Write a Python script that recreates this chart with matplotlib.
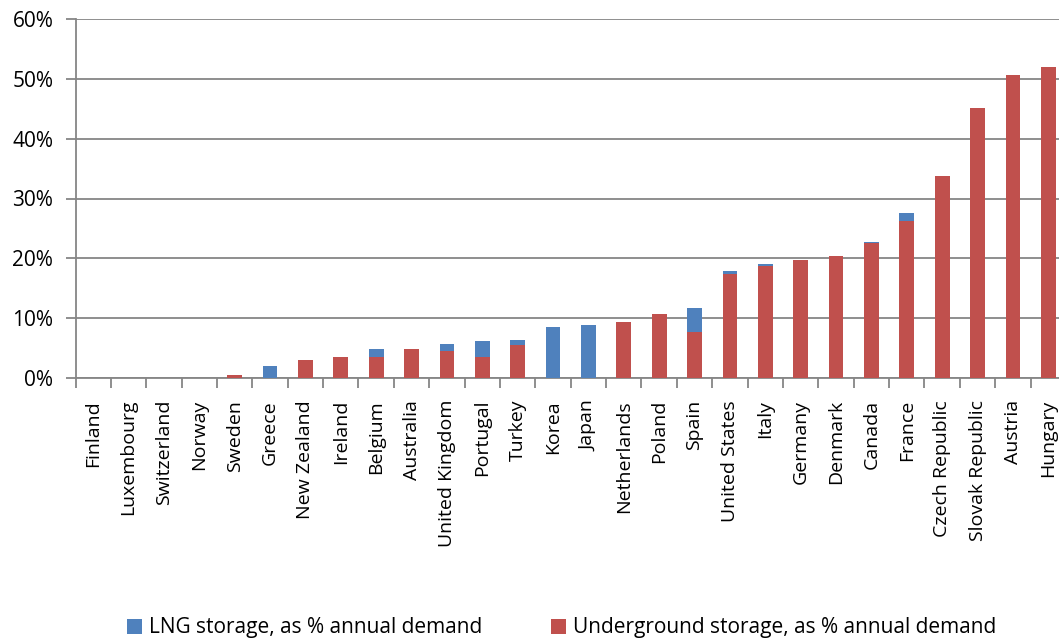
import matplotlib
matplotlib.use("Agg")
import matplotlib.pyplot as plt
from matplotlib.ticker import FixedLocator, FuncFormatter
import numpy as np

# countries, sorted by total storage
countries = ["Finland", "Luxembourg", "Switzerland", "Norway", "Sweden", "Greece",
             "New Zealand", "Ireland", "Belgium", "Australia", "United Kingdom",
             "Portugal", "Turkey", "Korea", "Japan", "Netherlands", "Poland", "Spain",
             "United States", "Italy", "Germany", "Denmark", "Canada", "France",
             "Czech Republic", "Slovak Republic", "Austria", "Hungary"]

# underground storage, % of annual demand
underground = [0, 0, 0, 0, 0.4, 0, 2.9, 3.5, 3.5, 4.8, 4.5, 3.5, 5.4, 0, 0,
               9.4, 10.6, 7.6, 17.4, 18.7, 19.7, 20.3, 22.5, 26.2, 33.7, 45.2, 50.7, 52.0]
# LNG storage, % of annual demand
lng = [0, 0, 0, 0, 0, 2.0, 0, 0, 1.3, 0, 1.2, 2.6, 0.9, 8.5, 8.8,
       0, 0, 4.0, 0.4, 0.3, 0, 0, 0.3, 1.3, 0, 0, 0, 0]

plt.rcParams['font.family'] = ['Open Sans', 'DejaVu Sans']

blue = "#4F81BD"
red = "#C0504D"
grey = "#868686"

fig = plt.figure(figsize=(10.59, 6.4), dpi=100)
ax = fig.add_axes([75.5 / 1059, 262.3 / 640, 990.5 / 1059, 358.4 / 640])

x = np.arange(len(countries))
ax.bar(x, underground, width=0.42, color=red, linewidth=0,
       label="Underground storage, as % annual demand", zorder=3)
ax.bar(x, lng, width=0.42, bottom=underground, color=blue, linewidth=0,
       label="LNG storage, as % annual demand", zorder=3)

ax.set_xlim(-0.5, len(countries) - 0.5)
ax.set_ylim(0, 60)
ax.set_yticks(np.arange(0, 61, 10))
ax.yaxis.set_major_formatter(FuncFormatter(lambda v, p: "%d%%" % v))
ax.grid(axis="y", color=grey, linewidth=1.3, zorder=0)

ax.set_xticks(x)
ax.set_xticklabels(countries, rotation=90, fontsize=14)
ax.tick_params(axis="x", which="major", length=0, pad=16)
ax.xaxis.set_minor_locator(FixedLocator(np.arange(-0.5, len(countries), 1)))
ax.tick_params(axis="x", which="minor", length=7, width=1.3, color=grey)
ax.tick_params(axis="y", length=7, width=1.3, color=grey, labelsize=15, pad=9)

for s in ["top", "right"]:
    ax.spines[s].set_visible(False)
for s in ["left", "bottom"]:
    ax.spines[s].set_color(grey)
    ax.spines[s].set_linewidth(1.3)

handles, labels = ax.get_legend_handles_labels()
fig.legend(handles[::-1], labels[::-1], loc="center", bbox_to_anchor=(562 / 1059, 12 / 640),
           ncol=2, frameon=False, fontsize=15, handlelength=0.7, handleheight=0.7,
           handletextpad=0.35, columnspacing=3.3)

fig.savefig("out.png", dpi=100)
